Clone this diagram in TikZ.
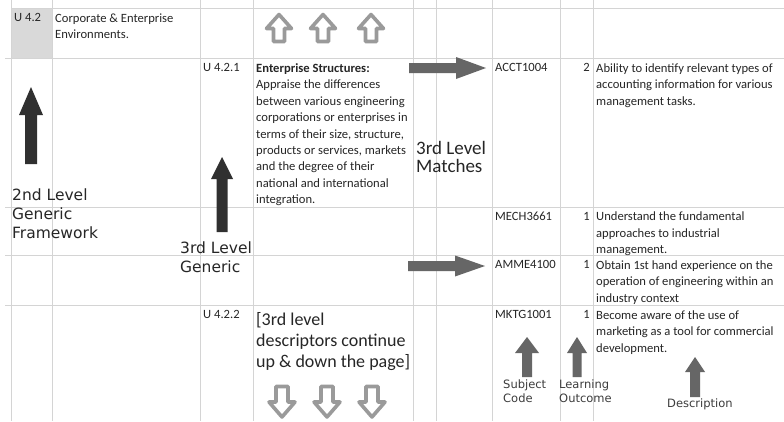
\documentclass[tikz,border=0pt]{standalone}
\usepackage{fontspec}
\setmainfont{Carlito}
\newfontfamily\labelfont{DejaVu Sans}
\definecolor{gridc}{HTML}{D4D4D4}
\definecolor{txt}{HTML}{262626}
\definecolor{blk}{HTML}{303030}
\definecolor{midg}{HTML}{666666}
\definecolor{hollowc}{HTML}{9A9A9A}
\definecolor{cellg}{HTML}{D9D9D9}
% vertical block arrow: centre x, tip y, head-base y, tail y, head half-width, shaft half-width, style
\newcommand{\vblock}[7]{\path[#7] ({#1-#6},#4) -- ({#1-#6},#3) -- ({#1-#5},#3) -- (#1,#2) -- ({#1+#5},#3) -- ({#1+#6},#3) -- ({#1+#6},#4) -- cycle;}
% horizontal block arrow: tip x, centre y, head-base x, tail x, head half-width, shaft half-width, style
\newcommand{\hblock}[7]{\path[#7] (#4,{#2-#6}) -- (#3,{#2-#6}) -- (#3,{#2-#5}) -- (#1,#2) -- (#3,{#2+#5}) -- (#3,{#2+#6}) -- (#4,{#2+#6}) -- cycle;}
\begin{document}
\begin{tikzpicture}[x=1pt,y=-1pt,
  gridline/.style={draw=gridc, line width=0.9pt},
  cell/.style={anchor=north west, inner sep=0pt, align=left, text=txt, font=\fontsize{12.6}{16.4}\selectfont},
  num/.style={anchor=north east, inner sep=0pt, text=txt, font=\fontsize{12.6}{16.4}\selectfont},
  bigc/.style={anchor=north west, inner sep=0pt, align=left, text=txt},
  lab/.style={anchor=north west, inner sep=0pt, align=left, text=txt, font=\labelfont\fontsize{15.5}{19}\selectfont},
  slab/.style={anchor=north west, inner sep=0pt, align=left, text=txt!90, font=\labelfont\fontsize{11.5}{13.5}\selectfont},
  hol/.style={draw=hollowc, line width=3.6pt, line join=round, fill=white},
  solidarrow/.style={fill=blk},
  grayarrow/.style={fill=midg}]
\useasboundingbox (0,0) rectangle (784,421);
\fill[white] (0,0) rectangle (784,421);
% shaded cell
\fill[cellg] (11,8) rectangle (52,58);
% grid
\foreach \gx in {11,52,200,253,413,436,492,560,593}
  {\draw[gridline] (\gx,0) -- (\gx,421);}
\draw[gridline] (11,8) -- (784,8);
\foreach \gy in {58,207,255,305}
  {\draw[gridline] (5,\gy) -- (784,\gy);}
% cell texts
\node[cell] (u42) at (14,13.5) {U 4.2};
\node[cell] (corp) at (55,13.5) {Corporate \& Enterprise\\Environments.};
\node[cell] (u421) at (203,63.5) {U 4.2.1};
\node[cell] (ent) at (256,63.5) {\textbf{Enterprise Structures:}\\Appraise the differences\\between various engineering\\corporations or enterprises in\\terms of their size, structure,\\products or services, markets\\and the degree of their\\national and international\\integration.};
\node[cell] (acct) at (495,63.5) {ACCT1004};
\node[num] (n1) at (590,63.5) {2};
\node[cell] (d1) at (596,63.5) {Ability to identify relevant types of\\accounting information for various\\management tasks.};
\node[cell] (mech) at (495,212) {MECH3661};
\node[num] (n2) at (590,212) {1};
\node[cell] (d2) at (596,212) {Understand the fundamental\\approaches to industrial\\management.};
\node[cell] (amme) at (495,260.5) {AMME4100};
\node[num] (n3) at (590,260.5) {1};
\node[cell] (d3) at (596,260.5) {Obtain 1st hand experience on the\\operation of engineering within an\\industry context};
\node[cell] (u422) at (203,310.5) {U 4.2.2};
\node[cell] (mktg) at (495,310.5) {MKTG1001};
\node[num] (n4) at (590,310.5) {1};
\node[cell] (d4) at (596,310.5) {Become aware of the use of\\marketing as a tool for commercial\\development.};
% large labels
\node[bigc, font=\fontsize{19}{18}\selectfont] (match) at (416,141) {3rd Level\\Matches};
\node[bigc, font=\fontsize{18}{21}\selectfont] (cont) at (256,312) {[3rd level\\descriptors continue\\up \& down the page]};
\node[lab] (gen2) at (12,189) {2nd Level\\Generic\\Framework};
\node[lab] (gen3) at (180,242) {3rd Level\\Generic};
\node[slab] (subj) at (503,380) {Subject\\Code};
\node[slab] (lo) at (559,380) {Learning\\Outcome};
\node[slab] (desc) at (667,399) {Description};
% solid arrows
\vblock{31}{87}{115}{164}{12}{6}{solidarrow}
\vblock{222}{157}{179}{232}{11}{5.5}{solidarrow}
\hblock{486}{68}{456}{409}{11}{5}{grayarrow}
\hblock{485}{266}{455}{408}{10.5}{5}{grayarrow}
\vblock{527}{337}{353}{377}{12}{5}{grayarrow}
\vblock{577}{337}{353}{377}{10}{4.5}{grayarrow}
\vblock{695}{357}{372}{397}{10}{5}{grayarrow}
% hollow arrows
\foreach \hx in {279,323,371}
  {\vblock{\hx}{14.5}{28.5}{41.5}{12.5}{5.5}{hol}}
\foreach \hx in {282,327,372}
  {\vblock{\hx}{417}{402}{386.5}{13}{6}{hol}}
\end{tikzpicture}
\end{document}
